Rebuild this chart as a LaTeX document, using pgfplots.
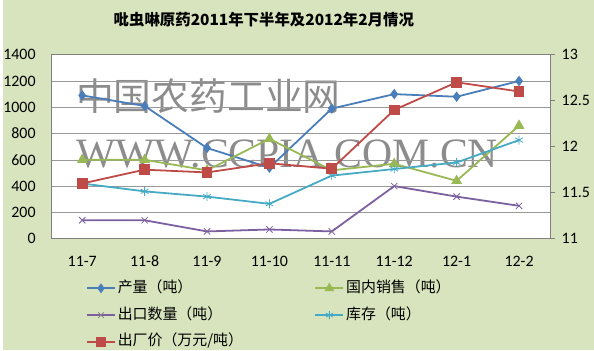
\documentclass[border=0pt]{standalone}
\usepackage{fontspec}
\setmainfont{Carlito}
\newfontfamily\cjk{Noto Sans CJK SC}
\newfontfamily\wmfont{Liberation Serif}
\usepackage{pgfplots}
\pgfplotsset{compat=1.18}
\definecolor{bg}{HTML}{D7E4BD}
\definecolor{cblue}{HTML}{4A7EBB}
\definecolor{cred}{HTML}{BE4B48}
\definecolor{cgreen}{HTML}{98B954}
\definecolor{cpurple}{HTML}{7D60A0}
\definecolor{ccyan}{HTML}{46AAC5}
\definecolor{wm}{HTML}{8C8C8C}
\begin{document}
\begin{tikzpicture}[x=1pt,y=1pt]
\fill[bg] (0,0) rectangle (594,352);
\fill[white] (48,112) rectangle (550,297);
\node[anchor=center, font=\bfseries\cjk\fontsize{15.5}{15.5}\selectfont] at (262,332) {吡虫啉原药2011年下半年及2012年2月情况};
\node[anchor=west, inner sep=0, text=wm, font=\cjk\fontsize{38}{38}\selectfont] at (73,255) {中国农药工业网};
\node[anchor=west, inner sep=0, text=wm, font=\wmfont\fontsize{42}{42}\selectfont] at (73,197) {WWW.CCPIA.COM.CN};
\begin{axis}[
  at={(48pt,112pt)}, anchor=south west, scale only axis,
  width=502pt, height=185pt,
  xmin=-0.5, xmax=7.5, ymin=0, ymax=1400,
  xtick={0,...,7},
  xticklabels={11-7,11-8,11-9,11-10,11-11,11-12,12-1,12-2},
  ytick={0,200,...,1400},
  ymajorgrids, grid style={color=gray!80, line width=0.6pt},
  axis line style={color=gray, line width=0.6pt},
  major tick length=0pt,
  ytick pos=left, xtick pos=bottom,
  tick label style={font=\fontsize{16}{16}\selectfont},
  /pgf/number format/assume math mode=true,
  /pgf/number format/1000 sep={},
  yticklabel style={xshift=-12pt},
  xticklabel style={yshift=-14pt},
  every axis plot/.append style={line width=1.8pt},
]
\addplot[cblue, mark=diamond*, mark size=3.8pt, mark options={solid, fill=cblue}] coordinates {
(0,1090) (1,1010) (2,690) (3,540) (4,990) (5,1100) (6,1080) (7,1200)};
\addplot[cgreen, mark=triangle*, mark size=4.5pt, mark options={solid, fill=cgreen}] coordinates {
(0,600) (1,600) (2,520) (3,760) (4,520) (5,570) (6,440) (7,860)};
\addplot[cpurple, mark=x, mark size=4.5pt, mark options={solid, line width=0.8pt}] coordinates {
(0,140) (1,140) (2,55) (3,70) (4,55) (5,400) (6,320) (7,250)};
\addplot[ccyan, mark=asterisk, mark size=4.5pt, mark options={solid, line width=0.8pt}] coordinates {
(0,420) (1,360) (2,320) (3,265) (4,480) (5,530) (6,580) (7,750)};
\end{axis}
\begin{axis}[
  at={(48pt,112pt)}, anchor=south west, scale only axis,
  width=502pt, height=185pt,
  xmin=-0.5, xmax=7.5, ymin=11, ymax=13,
  axis x line=none,
  axis y line*=right,
  ytick={11,11.5,12,12.5,13},
  axis line style={color=gray, line width=0.6pt},
  tick style={color=gray, line width=0.6pt},
  tick align=outside, major tick length=5pt,
  tick label style={font=\fontsize{16}{16}\selectfont},
  /pgf/number format/assume math mode=true,
  yticklabel style={xshift=3pt},
  every axis plot/.append style={line width=1.8pt},
  legend columns=2,
  legend style={at={(0.07,-0.22)}, anchor=north west, draw=none, fill=none,
    inner sep=0pt, row sep=9pt,
    font=\cjk\fontsize{15}{15}\selectfont,
    nodes={inner sep=2pt, text height=11pt, text depth=3pt},
    /tikz/every even column/.append style={column sep=70pt}},
  legend cell align=left,
  legend image code/.code={\draw[mark repeat=2,mark phase=2] plot coordinates {(0pt,0pt) (14pt,0pt) (28pt,0pt)};},
]
\addlegendimage{cblue, mark=diamond*, mark size=3.5pt, mark options={solid, fill=cblue}}
\addlegendimage{cgreen, mark=triangle*, mark size=4pt, mark options={solid, fill=cgreen}}
\addlegendimage{cpurple, mark=x, mark size=4pt, mark options={solid, line width=0.8pt, draw=gray}}
\addlegendimage{ccyan, mark=asterisk, mark size=4pt, mark options={solid, line width=0.8pt}}
\addplot[cred, mark=square*, mark size=4.5pt, mark options={solid, fill=cred}] coordinates {
(0,11.6) (1,11.75) (2,11.72) (3,11.82) (4,11.76) (5,12.4) (6,12.7) (7,12.6)};
\legend{产量（吨）,国内销售（吨）,出口数量（吨）,库存（吨）,出厂价（万元/吨）}
\end{axis}
\end{tikzpicture}
\end{document}
